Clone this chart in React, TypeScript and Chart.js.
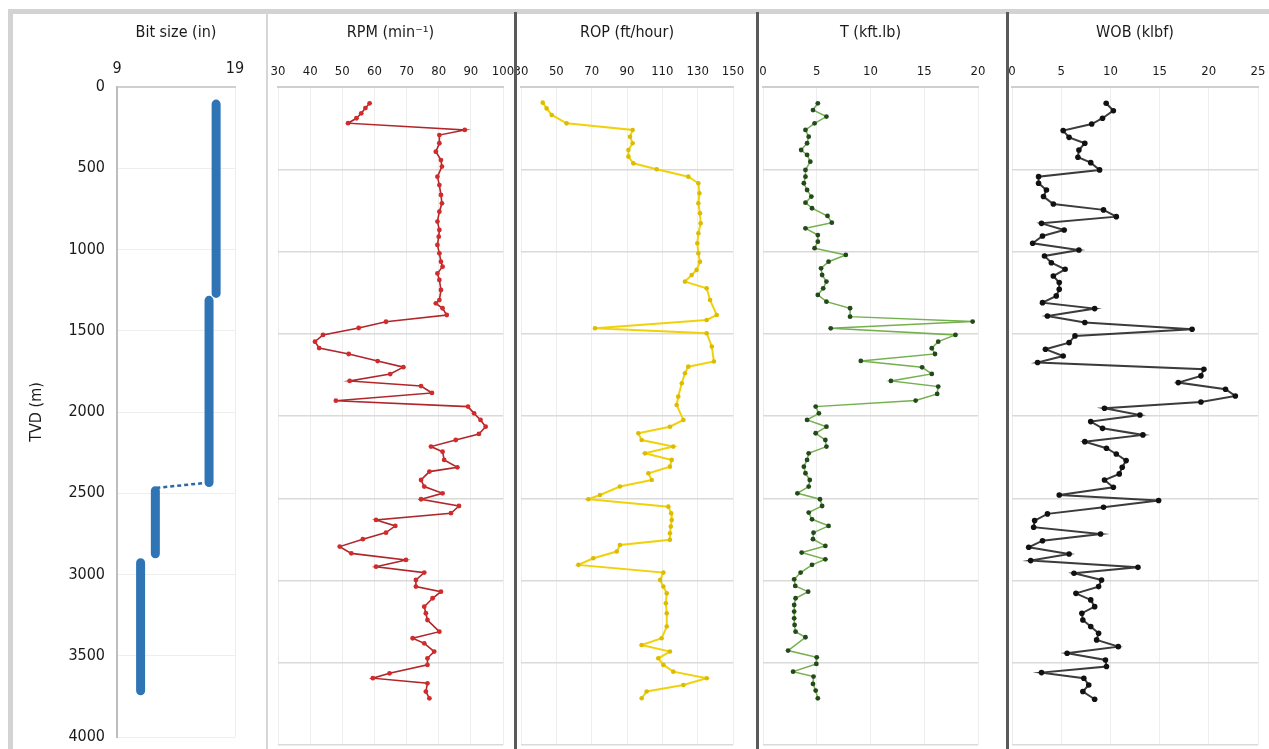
import React, { useEffect, useRef } from "react";
import { Chart, registerables } from "chart.js";
Chart.register(...registerables);

const FONT = "'Liberation Sans Narrow', 'DejaVu Sans Condensed', 'Open Sans', sans-serif";

// ---------- axis ticks ----------
const depthTicks = [0, 500, 1000, 1500, 2000, 2500, 3000, 3500, 4000];
const bitTicks = [9, 19];
const rpmTicks = [30, 40, 50, 60, 70, 80, 90, 100];
const ropTicks = [30, 50, 70, 90, 110, 130, 150];
const torqueTicks = [0, 5, 10, 15, 20];
const wobTicks = [0, 5, 10, 15, 20, 25];

// ---------- data: [TVD (m), value] ----------
// bit size runs: [from TVD, to TVD, size (in)]
const bitRuns: [number, number, number][] = [
  [105, 1270, 17.4],
  [1313, 2434, 16.8],
  [2484, 2872, 12.25],
  [2928, 3716, 11.0],
];
const bitConnector: [number, number][] = [
  [2434, 16.8],
  [2468, 12.25],
];

const rpm: [number, number][] = [
  [99, 58.5], [128, 57.2], [160, 55.9], [190, 54.4], [220, 51.8], [261, 88.1], [292, 80.2],
  [342, 80.2], [393, 79.1], [444, 80.7], [484, 81], [545, 79.6], [596, 80.2], [656, 80.7],
  [707, 81], [758, 80.2], [818, 79.6], [869, 80.2], [910, 80], [960, 79.6], [1011, 80.2],
  [1062, 80.7], [1092, 81.2], [1133, 79.6], [1173, 80.2], [1234, 80.7], [1295, 80.2],
  [1315, 79.1], [1345, 81.2], [1386, 82.5],
  [1427, 63.6], [1465, 55.1], [1507, 44], [1548, 41.5], [1587, 42.8], [1623, 52], [1666, 61],
  [1703, 69], [1745, 64.9], [1787, 52.3], [1818, 74.5], [1860, 77.9], [1907, 48], [1943, 89.1],
  [1984, 91], [2024, 93], [2065, 94.6], [2109, 92.5], [2146, 85.3], [2186, 77.6], [2217, 81.2],
  [2267, 81.7], [2312, 85.8], [2338, 77.1], [2389, 74.5], [2429, 75.5], [2470, 81.2],
  [2506, 74.5], [2547, 86.3], [2591, 83.8],
  [2632, 60.5], [2668, 66.5], [2709, 63.6], [2749, 56.4], [2794, 49.2], [2835, 52.8],
  [2875, 69.8], [2916, 60.5], [2952, 75.5], [2997, 72.9], [3037, 72.9], [3068, 80.7],
  [3108, 78.1], [3159, 75.5], [3199, 76], [3240, 76.5],
  [3311, 80.2], [3351, 71.9], [3382, 75.5], [3432, 78.6], [3473, 76.5], [3513, 76.5],
  [3564, 64.7], [3594, 59.5], [3625, 76.5], [3675, 76], [3716, 77.1],
];

const rop: [number, number][] = [
  [95, 42.3], [130, 44.5], [170, 47.4], [221, 55.8], [261, 93.2], [302, 91.7], [342, 93.2],
  [383, 90.8], [423, 90.8], [464, 93.6], [500, 106.8], [545, 124.7], [585, 130.4], [646, 131],
  [707, 130.4], [768, 131.3], [829, 131.7], [889, 130.4], [950, 129.8], [1011, 130.4],
  [1062, 131.3], [1112, 129.4], [1143, 126.6], [1183, 122.8], [1224, 135.1], [1295, 137],
  [1386, 140.8], [1416, 135.1], [1467, 71.9], [1497, 135.1], [1578, 138], [1669, 139.2],
  [1700, 124.7], [1740, 122.8], [1801, 121], [1882, 119], [1933, 118.1], [2024, 121.9],
  [2065, 114.3], [2105, 96.4], [2146, 98.3], [2186, 116.2], [2227, 100.2], [2267, 115.3],
  [2308, 114.3], [2348, 102.1], [2389, 104], [2429, 86], [2480, 74.7], [2506, 68.1],
  [2551, 113.4], [2591, 115], [2632, 115.3], [2672, 114.8], [2713, 114.3], [2753, 114.3],
  [2784, 86], [2824, 84.2], [2865, 70.9], [2905, 62.5], [2952, 110.6], [2997, 108.7],
  [3037, 110.6], [3078, 112.5], [3138, 112], [3199, 112.5], [3280, 112.5], [3351, 109.6],
  [3392, 98.3], [3432, 114.3], [3473, 107.7], [3513, 110.6], [3554, 116.2], [3594, 135.1],
  [3635, 121.9], [3675, 101.1], [3716, 98.3],
];

const torque: [number, number][] = [
  [99, 5.1], [140, 4.65], [180, 5.9], [221, 4.8], [261, 3.95], [302, 4.25], [342, 4.1],
  [383, 3.55], [413, 4.1], [454, 4.4], [504, 3.95], [545, 3.95], [585, 3.8], [626, 4.1],
  [666, 4.5], [703, 3.95], [737, 4.56], [784, 6], [825, 6.4], [859, 3.95], [900, 5.1],
  [940, 5.1], [980, 4.8], [1021, 7.7], [1062, 6.1], [1102, 5.4], [1143, 5.5], [1183, 5.9],
  [1224, 5.6], [1264, 5.1], [1305, 5.9], [1345, 8.1], [1396, 8.1], [1426, 19.5], [1467, 6.3],
  [1507, 17.9], [1548, 16.3], [1588, 15.7], [1623, 16], [1665, 9.1], [1704, 14.8],
  [1744, 15.7], [1787, 11.9], [1821, 16.3], [1866, 16.2], [1906, 14.2], [1943, 4.9],
  [1984, 5.2], [2024, 4.1], [2065, 5.9], [2105, 4.9], [2146, 5.8], [2186, 5.9], [2227, 4.25],
  [2267, 4.1], [2308, 3.8], [2348, 3.95], [2389, 4.35], [2429, 4.25], [2470, 3.2], [2506, 5.3],
  [2547, 5.5], [2587, 4.25], [2628, 4.56], [2668, 6.1], [2709, 4.7], [2749, 4.65], [2790, 5.8],
  [2830, 3.6], [2871, 5.8], [2905, 4.56], [2952, 3.5], [2993, 2.9], [3033, 3], [3068, 4.2],
  [3108, 3.03], [3149, 2.9], [3189, 2.9], [3230, 2.9], [3270, 2.94], [3311, 3.03], [3345, 3.95],
  [3426, 2.33], [3467, 5], [3507, 4.96], [3554, 2.8], [3584, 4.7], [3629, 4.65], [3669, 4.9],
  [3716, 5.1],
];

const wob: [number, number][] = [
  [99, 9.57], [144, 10.3], [190, 9.2], [225, 8.1], [265, 5.2], [306, 5.8], [342, 7.4],
  [383, 6.8], [427, 6.7], [460, 8], [504, 8.9], [545, 2.7], [585, 2.7], [626, 3.5], [666, 3.2],
  [711, 4.2], [747, 9.3], [788, 10.6], [829, 3], [869, 5.3], [906, 3.1], [950, 2.1], [991, 6.8],
  [1027, 3.3], [1068, 4], [1108, 5.4], [1149, 4.2], [1189, 4.8], [1230, 4.8], [1270, 4.5],
  [1311, 3.1], [1347, 8.4], [1392, 3.6], [1432, 7.4], [1473, 18.3], [1513, 6.4], [1554, 5.8],
  [1594, 3.4], [1635, 5.2], [1675, 2.6], [1716, 19.5], [1756, 19.2], [1797, 16.9], [1837, 21.7],
  [1878, 22.7], [1915, 19.2], [1953, 9.4], [1994, 13], [2034, 8], [2075, 9.2], [2115, 13.3],
  [2156, 7.4], [2196, 9.6], [2231, 10.6], [2271, 11.6], [2312, 11.2], [2352, 10.9], [2389, 9.4],
  [2433, 10.3], [2480, 4.8], [2514, 14.9], [2555, 9.3], [2595, 3.6], [2636, 2.3], [2676, 2.2],
  [2717, 9], [2758, 3.1], [2798, 1.7], [2839, 5.8], [2879, 1.9], [2920, 12.8], [2956, 6.3],
  [2997, 9.1], [3037, 8.8], [3078, 6.5], [3118, 8], [3159, 8.4], [3199, 7.1], [3240, 7.2],
  [3280, 8], [3321, 8.8], [3361, 8.6], [3402, 10.8], [3442, 5.6], [3483, 9.5], [3523, 9.6],
  [3560, 3], [3594, 7.3], [3635, 7.8], [3675, 7.2], [3722, 8.4],
];

// ---------- layout ----------
const W = 1269;
const H = 749;
const PLOT_TOP = 87;

type Panel = {
  left: number;
  width: number;
  plotLeft: number;
  plotRight: number;
  plotBottom: number;
  min: number;
  max: number;
  ticks: number[];
  title: string;
  tickSize: number;
  tickPad: number;
  depthAxis: boolean;
  datasets: any[];
};

const toXY = (arr: [number, number][]) => arr.map(([d, v]) => ({ x: v, y: d }));

function lineSet(arr: [number, number][], line: string, point: string, lw: number, r: number) {
  return {
    data: toXY(arr),
    showLine: true,
    borderColor: line,
    borderWidth: lw,
    pointRadius: r,
    pointBackgroundColor: point,
    pointBorderColor: point,
    pointBorderWidth: 0,
    tension: 0,
  };
}

const bitDatasets = [
  ...bitRuns.map(([a, b, s]) => ({
    data: [
      { x: s, y: a },
      { x: s, y: b },
    ],
    showLine: true,
    borderColor: "#2f75b6",
    borderWidth: 9,
    borderCapStyle: "round",
    pointRadius: 0,
  })),
  {
    data: toXY(bitConnector),
    showLine: true,
    borderColor: "#2c68a6",
    borderWidth: 2.5,
    borderDash: [4, 3],
    pointRadius: 0,
  },
];

const panels: Panel[] = [
  {
    left: 0, width: 265, plotLeft: 117, plotRight: 235, plotBottom: 737, min: 9, max: 19, ticks: bitTicks,
    title: "Bit size (in)", tickSize: 16, tickPad: 9, depthAxis: true, datasets: bitDatasets,
  },
  {
    left: 262, width: 253, plotLeft: 278, plotRight: 503, plotBottom: 746, min: 30, max: 100, ticks: rpmTicks,
    title: "RPM (min\u207B\u00B9)", tickSize: 13, tickPad: 8, depthAxis: false,
    datasets: [lineSet(rpm, "#b0262a", "#d22b2b", 1.6, 2.4)],
  },
  {
    left: 505, width: 255, plotLeft: 521, plotRight: 733, plotBottom: 746, min: 30, max: 150, ticks: ropTicks,
    title: "ROP (ft/hour)", tickSize: 13, tickPad: 8, depthAxis: false,
    datasets: [lineSet(rop, "#f0d20c", "#dcbc00", 2, 2.3)],
  },
  {
    left: 750, width: 257, plotLeft: 763, plotRight: 978, plotBottom: 746, min: 0, max: 20, ticks: torqueTicks,
    title: "T (kft.lb)", tickSize: 13, tickPad: 8, depthAxis: false,
    datasets: [lineSet(torque, "#74b04e", "#23491c", 1.5, 2.4)],
  },
  {
    left: 1000, width: 269, plotLeft: 1012, plotRight: 1258, plotBottom: 746, min: 0, max: 25, ticks: wobTicks,
    title: "WOB (klbf)", tickSize: 13, tickPad: 8, depthAxis: false,
    datasets: [lineSet(wob, "#3b3b3b", "#111111", 2, 2.8)],
  },
];

function makeConfig(p: Panel): any {
  const yW = p.plotLeft - p.left;
  const padRight = p.left + p.width - p.plotRight;
  return {
    type: "scatter",
    data: { datasets: p.datasets },
    options: {
      animation: false,
      responsive: false,
      maintainAspectRatio: false,
      layout: { padding: { left: 0, right: padRight, top: 0, bottom: H - p.plotBottom } },
      plugins: { legend: { display: false }, tooltip: { enabled: false } },
      scales: {
        x: {
          type: "linear",
          position: "top",
          min: p.min,
          max: p.max,
          afterBuildTicks: (s: any) => {
            s.ticks = p.ticks.map((v) => ({ value: v }));
          },
          afterFit: (s: any) => {
            s.height = PLOT_TOP;
            s.paddingLeft = 0;
            s.paddingRight = 0;
          },
          ticks: {
            font: { family: FONT, size: p.tickSize },
            color: "#1a1a1a",
            padding: p.tickPad,
            maxRotation: 0,
            autoSkip: false,
            callback: (v: any) => String(v),
          },
          grid: { color: "#ededed", lineWidth: 1, drawTicks: false },
          border: { display: true, color: "#cfcfcf", width: 2 },
          title: {
            display: true,
            text: p.title,
            color: "#1a1a1a",
            font: { family: FONT, size: 16 },
            padding: { top: 23, bottom: 0 },
          },
        },
        y: {
          type: "linear",
          min: 0,
          max: 4000,
          reverse: true,
          afterBuildTicks: (s: any) => {
            s.ticks = depthTicks.map((v) => ({ value: v }));
          },
          afterFit: (s: any) => {
            s.width = yW;
            s.paddingTop = 0;
            s.paddingBottom = 0;
          },
          ticks: {
            display: p.depthAxis,
            font: { family: FONT, size: 16 },
            color: "#1a1a1a",
            padding: 12,
            callback: (v: any) => String(v),
          },
          grid: {
            color: p.depthAxis ? "#eeeeee" : "#dadada",
            lineWidth: p.depthAxis ? 1 : 1.5,
            drawTicks: false,
          },
          border: { display: p.depthAxis, color: "#bdbdbd", width: 2 },
          title: {
            display: p.depthAxis,
            text: "TVD (m)",
            color: "#1a1a1a",
            font: { family: FONT, size: 16 },
            padding: { top: 27, bottom: 0 },
          },
        },
      },
    },
  };
}

export default function App() {
  const refs = useRef<(HTMLCanvasElement | null)[]>([]);

  useEffect(() => {
    const charts = panels.map((p, i) => new Chart(refs.current[i] as HTMLCanvasElement, makeConfig(p)));
    return () => charts.forEach((c) => c.destroy());
  }, []);

  const lineStyle = (left: number, width: number, color: string): React.CSSProperties => ({
    position: "absolute",
    left,
    top: 12,
    width,
    height: H - 12,
    background: color,
  });

  return (
    <div
      style={{
        position: "absolute",
        left: 0,
        top: 0,
        width: W,
        height: H,
        background: "#ffffff",
        overflow: "hidden",
      }}
    >
      {panels.map((p, i) => (
        <canvas
          key={i}
          ref={(el) => {
            refs.current[i] = el;
          }}
          width={p.width}
          height={H}
          style={{ position: "absolute", left: p.left, top: 0, width: p.width, height: H }}
        />
      ))}
      <div style={{ position: "absolute", left: 8, top: 9, width: W - 8, height: 5, background: "#d3d3d3" }} />
      <div style={{ position: "absolute", left: 8, top: 9, width: 5, height: H - 9, background: "#d3d3d3" }} />
      <div style={lineStyle(266, 2, "#d6d6d6")} />
      <div style={lineStyle(514, 3, "#5a5a5a")} />
      <div style={lineStyle(756, 3, "#5a5a5a")} />
      <div style={lineStyle(1006, 3, "#5a5a5a")} />
    </div>
  );
}
